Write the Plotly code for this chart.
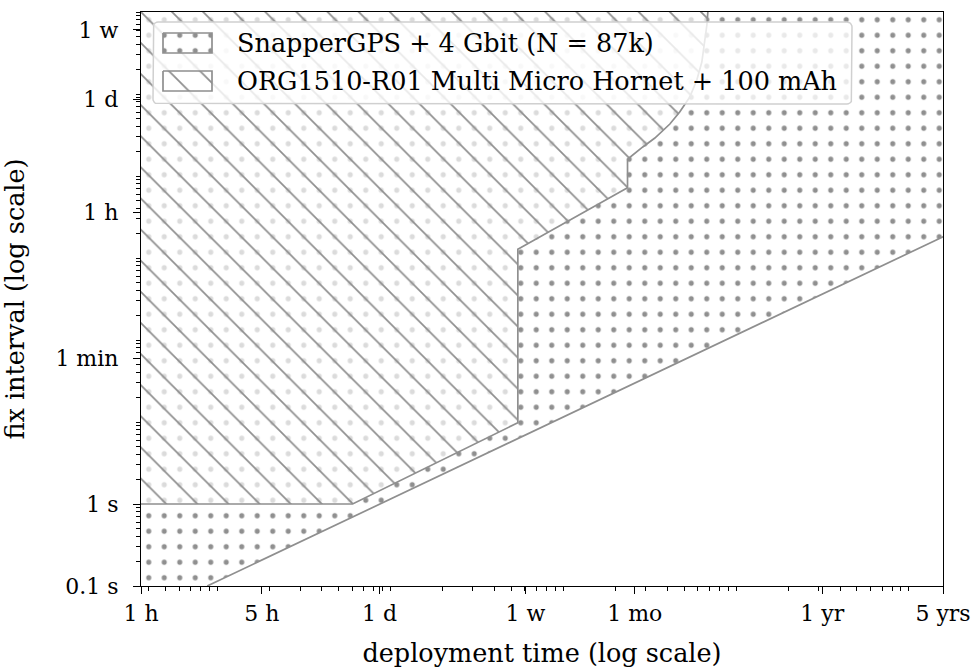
import math
import plotly.graph_objects as go

# ---- units (seconds) ----
HOUR = 3600
DAY = 86400
WEEK = 7 * DAY
MONTH = 30 * DAY
YEAR = 365 * DAY

# ---- axis ticks ----
x_tick_vals = [HOUR, 5 * HOUR, DAY, WEEK, MONTH, YEAR, 5 * YEAR]
x_tick_text = ["1 h", "5 h", "1 d", "1 w", "1 mo", "1 yr", "5 yrs"]
y_tick_vals = [0.1, 1, 60, HOUR, DAY, WEEK]
y_tick_text = ["0.1 s", "1 s", "1 min", "1 h", "1 d", "1 w"]

x_min, x_max = HOUR, 5 * YEAR
y_min, y_max = 0.1, 1e6

# ---- series ----
series_names = ["SnapperGPS + 4 Gbit (N = 87k)",
                "ORG1510-R01 Multi Micro Hornet + 100 mAh"]

# SnapperGPS lower boundary: deployment time [s] vs fix interval [s]
snapper_T = [8700, 1.5768e8]
snapper_I = [0.1, 1812]

# Hornet feasible-region boundary: deployment time [s] vs fix interval [s]
hornet_T = [3600, 60400, 546000, 546000, 2.355e6, 2.355e6, 2.886e6, 3.39e6,
            4.14e6, 4.72e6, 5.40e6, 5.93e6, 6.34e6, 6.60e6, 6.78e6, 6.87e6]
hornet_I = [1, 1, 9.8, 1277, 7194, 16000, 22600, 29040,
            43050, 60300, 91900, 148000, 245700, 430000, 694000, 1e6]

GRAY = "#8f8f8f"
FONT = "DejaVu Serif"
TICK_SIZE = 22
TEXT_SIZE = 25.5

DOTS = dict(shape=".", fgcolor=GRAY, bgcolor="rgba(255,255,255,0)",
            size=15.5, solidity=0.085, fillmode="replace")
HATCH = dict(shape="\\", fgcolor=GRAY, bgcolor="rgba(255,255,255,0.68)",
             size=22, solidity=0.08, fillmode="replace")

# polygons closed outside the visible range (clipped by the axes)
PX_LO, PX_HI = x_min / 4, x_max * 2
PY_LO, PY_HI = y_min / 10, y_max * 10

snap_x = [snapper_T[0], snapper_T[1], PX_HI, PX_HI, PX_LO, PX_LO, snapper_T[0], snapper_T[0]]
snap_y = [snapper_I[0], snapper_I[1], snapper_I[1], PY_HI, PY_HI, PY_LO, PY_LO, snapper_I[0]]

horn_x = [PX_LO] + hornet_T + [hornet_T[-1], PX_LO, PX_LO]
horn_y = [hornet_I[0]] + hornet_I + [PY_HI, PY_HI, hornet_I[0]]

fig = go.Figure()
fig.add_trace(go.Scatter(
    x=snap_x, y=snap_y, mode="lines", fill="toself",
    name=series_names[0], showlegend=False,
    line=dict(color=GRAY, width=1.7),
    fillcolor="rgba(255,255,255,0)", fillpattern=DOTS,
    hoverinfo="skip",
))
fig.add_trace(go.Scatter(
    x=horn_x, y=horn_y, mode="lines", fill="toself",
    name=series_names[1], showlegend=False,
    line=dict(color=GRAY, width=1.7),
    fillcolor="rgba(255,255,255,0.68)", fillpattern=HATCH,
    hoverinfo="skip",
))

# ---- legend drawn on an overlay axis spanning the plot area (0..1) ----
PLOT_L, PLOT_R, PLOT_T, PLOT_B = 141, 943, 12, 586
def fx(px):
    return (px - PLOT_L) / (PLOT_R - PLOT_L)
def fy(py):
    return (PLOT_B - py) / (PLOT_B - PLOT_T)

def rounded_rect(x0, y0, x1, y1, r):
    xs, ys = [], []
    corners = [(x1 - r, y0 + r, -90, 0), (x1 - r, y1 - r, 0, 90),
               (x0 + r, y1 - r, 90, 180), (x0 + r, y0 + r, 180, 270)]
    for cx, cy, a0, a1 in corners:
        for i in range(7):
            a = math.radians(a0 + (a1 - a0) * i / 6)
            xs.append(fx(cx + r * math.cos(a)))
            ys.append(fy(cy + r * math.sin(a)))
    xs.append(xs[0]); ys.append(ys[0])
    return xs, ys

bx, by = rounded_rect(153, 22, 852, 104, 5)
fig.add_trace(go.Scatter(
    x=bx, y=by, xaxis="x2", yaxis="y2", mode="lines", fill="toself",
    fillcolor="rgba(255,255,255,0.8)", line=dict(color="#d0d0d0", width=1.5),
    showlegend=False, hoverinfo="skip",
))

legend_rows = [(series_names[0], DOTS, 33, 53, 43),
               (series_names[1], HATCH, 71, 91, 81)]
for name, pat, top, bot, mid in legend_rows:
    px0, px1 = 163, 212
    fig.add_trace(go.Scatter(
        x=[fx(px0), fx(px1), fx(px1), fx(px0), fx(px0)],
        y=[fy(top), fy(top), fy(bot), fy(bot), fy(top)],
        xaxis="x2", yaxis="y2", mode="lines", fill="toself",
        fillcolor="white", fillpattern=dict(pat, bgcolor="white"),
        line=dict(color=GRAY, width=1.7), showlegend=False, hoverinfo="skip",
    ))
    fig.add_annotation(
        x=fx(235), y=fy(mid), xref="paper", yref="paper",
        text=name, showarrow=False, xanchor="left", yanchor="middle",
        font=dict(family=FONT, size=TEXT_SIZE, color="black"),
    )


def minor_vals(lo, hi):
    vals = []
    for n in range(int(math.floor(math.log10(lo))) - 1, int(math.ceil(math.log10(hi))) + 1):
        for k in range(1, 10):
            v = k * 10 ** n
            if lo <= v <= hi:
                vals.append(v)
    return vals

axis_common = dict(
    type="log", showgrid=False, zeroline=False, automargin=False,
    showline=True, linecolor="black", linewidth=1.3, mirror=True,
    ticks="outside", ticklen=7, tickwidth=1.3, tickcolor="black",
    tickmode="array",
    tickfont=dict(family=FONT, size=TICK_SIZE, color="black"),
)

fig.update_layout(
    width=979, height=669,
    margin=dict(l=PLOT_L, r=979 - PLOT_R, t=PLOT_T, b=669 - PLOT_B),
    paper_bgcolor="white", plot_bgcolor="white",
    font=dict(family=FONT, size=TICK_SIZE, color="black"),
    xaxis=dict(
        range=[math.log10(x_min), math.log10(x_max)],
        tickvals=x_tick_vals, ticktext=x_tick_text,
        title=dict(text="deployment time (log scale)",
                   font=dict(family=FONT, size=TEXT_SIZE), standoff=19),
        minor=dict(tickvals=minor_vals(x_min, x_max), ticks="outside", ticklen=4,
                   tickwidth=1, tickcolor="black", showgrid=False),
        **axis_common,
    ),
    yaxis=dict(
        range=[math.log10(y_min), math.log10(y_max)],
        tickvals=y_tick_vals, ticktext=y_tick_text,
        ticklabelstandoff=10,
        title=dict(text="fix interval (log scale)",
                   font=dict(family=FONT, size=TEXT_SIZE), standoff=24),
        minor=dict(tickvals=minor_vals(y_min, y_max), ticks="outside", ticklen=4,
                   tickwidth=1, tickcolor="black", showgrid=False),
        **axis_common,
    ),
    xaxis2=dict(overlaying="x", anchor="y2", range=[0, 1], visible=False, fixedrange=True),
    yaxis2=dict(overlaying="y", anchor="x2", range=[0, 1], visible=False, fixedrange=True),
    showlegend=False,
)

fig.write_html("out.html")
